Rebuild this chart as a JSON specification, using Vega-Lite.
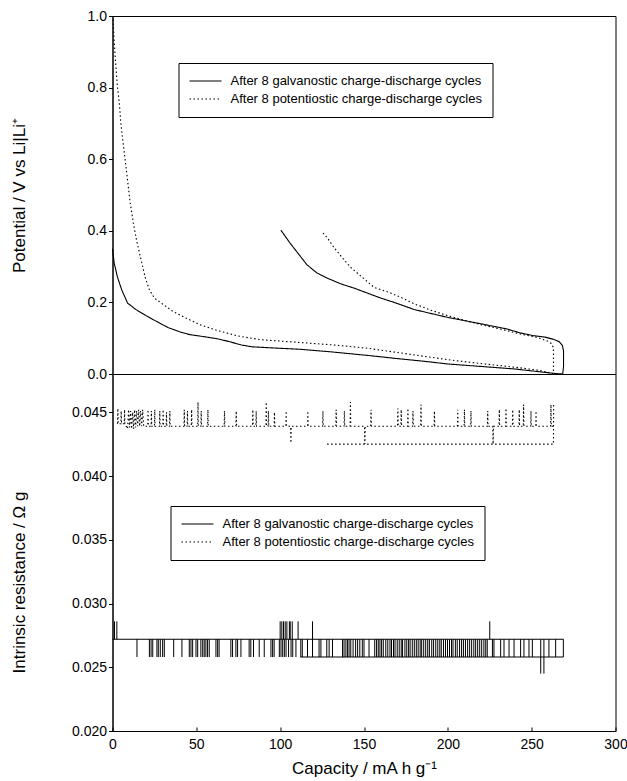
{
  "$schema": "https://vega.github.io/schema/vega-lite/v6.json",
  "background": "white",
  "padding": {"left": 9.5, "top": 8, "right": 0, "bottom": 3},
  "bounds": "flush",
  "config": {
    "font": "Liberation Sans",
    "view": {"stroke": "black", "strokeWidth": 1},
    "axis": {"grid": false, "domainColor": "black", "tickColor": "black", "labelColor": "black", "titleColor": "black", "labelFont": "Liberation Sans", "titleFont": "Liberation Sans", "labelFontSize": 14, "titleFontSize": 17, "titleFontWeight": "normal", "labelFlush": false},
    "legend": {"title": null, "orient": "none", "strokeColor": "black", "fillColor": "white", "padding": 10, "symbolType": "stroke", "symbolSize": 1024, "symbolStrokeWidth": 1.1, "symbolStrokeColor": "black", "labelFontSize": 13, "labelFont": "Liberation Sans", "labelColor": "black", "labelOffset": 8, "labelLimit": 0, "rowPadding": 2, "clipHeight": 16}
  },
  "datasets": {
    "potential": [
      {"s":"G","i":0,"cap":0,"pot":0.35},{"s":"G","i":1,"cap":1,"pot":0.31},{"s":"G","i":2,"cap":3,"pot":0.27},{"s":"G","i":3,"cap":5.5,"pot":0.235},{"s":"G","i":4,"cap":9,"pot":0.198},{"s":"G","i":5,"cap":14,"pot":0.18},{"s":"G","i":6,"cap":20,"pot":0.163},{"s":"G","i":7,"cap":27,"pot":0.145},{"s":"G","i":8,"cap":33,"pot":0.13},{"s":"G","i":9,"cap":40,"pot":0.118},{"s":"G","i":10,"cap":46,"pot":0.11},{"s":"G","i":11,"cap":55,"pot":0.104},{"s":"G","i":12,"cap":63,"pot":0.098},{"s":"G","i":13,"cap":70,"pot":0.09},{"s":"G","i":14,"cap":77,"pot":0.081},{"s":"G","i":15,"cap":83,"pot":0.076},{"s":"G","i":16,"cap":95,"pot":0.073},{"s":"G","i":17,"cap":112,"pot":0.069},{"s":"G","i":18,"cap":130,"pot":0.062},{"s":"G","i":19,"cap":152,"pot":0.052},{"s":"G","i":20,"cap":170,"pot":0.043},{"s":"G","i":21,"cap":185,"pot":0.036},{"s":"G","i":22,"cap":200,"pot":0.028},{"s":"G","i":23,"cap":220,"pot":0.021},{"s":"G","i":24,"cap":240,"pot":0.014},{"s":"G","i":25,"cap":257,"pot":0.005},{"s":"G","i":26,"cap":265,"pot":0.001},{"s":"G","i":27,"cap":268.5,"pot":0},
      {"s":"G","i":28,"cap":269,"pot":0.02},{"s":"G","i":29,"cap":269,"pot":0.065},{"s":"G","i":30,"cap":268.3,"pot":0.08},{"s":"G","i":31,"cap":266.5,"pot":0.09},{"s":"G","i":32,"cap":263,"pot":0.097},{"s":"G","i":33,"cap":258,"pot":0.103},{"s":"G","i":34,"cap":251,"pot":0.107},{"s":"G","i":35,"cap":243,"pot":0.115},{"s":"G","i":36,"cap":235,"pot":0.126},{"s":"G","i":37,"cap":220,"pot":0.14},{"s":"G","i":38,"cap":200,"pot":0.158},{"s":"G","i":39,"cap":180,"pot":0.18},{"s":"G","i":40,"cap":168,"pot":0.2},{"s":"G","i":41,"cap":160,"pot":0.212},{"s":"G","i":42,"cap":152,"pot":0.226},{"s":"G","i":43,"cap":144,"pot":0.24},{"s":"G","i":44,"cap":136,"pot":0.252},{"s":"G","i":45,"cap":128,"pot":0.268},{"s":"G","i":46,"cap":122,"pot":0.282},{"s":"G","i":47,"cap":116,"pot":0.305},{"s":"G","i":48,"cap":111,"pot":0.335},{"s":"G","i":49,"cap":106,"pot":0.365},{"s":"G","i":50,"cap":100.4,"pot":0.402},
      {"s":"P","i":0,"cap":0.3,"pot":0.99},{"s":"P","i":1,"cap":1,"pot":0.93},{"s":"P","i":2,"cap":2,"pot":0.86},{"s":"P","i":3,"cap":3,"pot":0.8},{"s":"P","i":4,"cap":4,"pot":0.76},{"s":"P","i":5,"cap":5,"pot":0.7},{"s":"P","i":6,"cap":6.2,"pot":0.65},{"s":"P","i":7,"cap":7.5,"pot":0.6},{"s":"P","i":8,"cap":9,"pot":0.54},{"s":"P","i":9,"cap":10.5,"pot":0.48},{"s":"P","i":10,"cap":12.5,"pot":0.42},{"s":"P","i":11,"cap":14.5,"pot":0.37},{"s":"P","i":12,"cap":17,"pot":0.32},{"s":"P","i":13,"cap":19.5,"pot":0.27},{"s":"P","i":14,"cap":22,"pot":0.235},{"s":"P","i":15,"cap":25,"pot":0.212},{"s":"P","i":16,"cap":30,"pot":0.195},{"s":"P","i":17,"cap":36,"pot":0.175},{"s":"P","i":18,"cap":43,"pot":0.158},{"s":"P","i":19,"cap":52,"pot":0.138},{"s":"P","i":20,"cap":63,"pot":0.121},{"s":"P","i":21,"cap":75,"pot":0.106},{"s":"P","i":22,"cap":88,"pot":0.096},{"s":"P","i":23,"cap":112,"pot":0.088},{"s":"P","i":24,"cap":132,"pot":0.081},{"s":"P","i":25,"cap":152,"pot":0.072},{"s":"P","i":26,"cap":170,"pot":0.06},{"s":"P","i":27,"cap":185,"pot":0.05},{"s":"P","i":28,"cap":200,"pot":0.04},{"s":"P","i":29,"cap":220,"pot":0.029},{"s":"P","i":30,"cap":240,"pot":0.019},{"s":"P","i":31,"cap":255,"pot":0.01},{"s":"P","i":32,"cap":260,"pot":0.004},{"s":"P","i":33,"cap":262.5,"pot":0},
      {"s":"P","i":34,"cap":263,"pot":0.005},{"s":"P","i":35,"cap":263,"pot":0.074},{"s":"P","i":36,"cap":261.5,"pot":0.086},{"s":"P","i":37,"cap":259.4,"pot":0.092},{"s":"P","i":38,"cap":253.4,"pot":0.102},{"s":"P","i":39,"cap":245,"pot":0.11},{"s":"P","i":40,"cap":239.5,"pot":0.116},{"s":"P","i":41,"cap":230,"pot":0.127},{"s":"P","i":42,"cap":219.6,"pot":0.138},{"s":"P","i":43,"cap":210,"pot":0.15},{"s":"P","i":44,"cap":199.8,"pot":0.163},{"s":"P","i":45,"cap":190,"pot":0.178},{"s":"P","i":46,"cap":180,"pot":0.196},{"s":"P","i":47,"cap":172,"pot":0.214},{"s":"P","i":48,"cap":165,"pot":0.228},{"s":"P","i":49,"cap":156,"pot":0.242},{"s":"P","i":50,"cap":149,"pot":0.27},{"s":"P","i":51,"cap":142,"pot":0.298},{"s":"P","i":52,"cap":137,"pot":0.325},{"s":"P","i":53,"cap":132,"pot":0.354},{"s":"P","i":54,"cap":128.5,"pot":0.378},{"s":"P","i":55,"cap":125.3,"pot":0.395}
    ],
    "resistance": [
      {"s":"G","seg":"g1","cap":0,"res":0.0272},{"s":"G","seg":"g1","cap":269,"res":0.0272},
      {"s":"G","seg":"g2","cap":112,"res":0.0258},{"s":"G","seg":"g2","cap":268.9,"res":0.0258},
      {"s":"P","seg":"l","cap":128,"res":0.0425},{"s":"P","seg":"l","cap":263,"res":0.0425},{"s":"P","seg":"l","cap":263.1,"res":0.0456},
      {"s":"P","seg":"m","cap":3,"res":0.0441},{"s":"P","seg":"m","cap":3.2,"res":0.0453},{"s":"P","seg":"m","cap":3.4,"res":0.0441},{"s":"P","seg":"m","cap":5,"res":0.0441},{"s":"P","seg":"m","cap":5.2,"res":0.0451},{"s":"P","seg":"m","cap":5.4,"res":0.0441},{"s":"P","seg":"m","cap":7,"res":0.0441},{"s":"P","seg":"m","cap":7.2,"res":0.0452},{"s":"P","seg":"m","cap":7.4,"res":0.0441},
      {"s":"P","seg":"m","cap":9,"res":0.0437},{"s":"P","seg":"m","cap":9.6,"res":0.0452},{"s":"P","seg":"m","cap":10.2,"res":0.0438},{"s":"P","seg":"m","cap":10.8,"res":0.0451},{"s":"P","seg":"m","cap":11.4,"res":0.0437},{"s":"P","seg":"m","cap":12,"res":0.045},{"s":"P","seg":"m","cap":12.6,"res":0.0437},{"s":"P","seg":"m","cap":13.2,"res":0.0452},{"s":"P","seg":"m","cap":13.8,"res":0.0438},{"s":"P","seg":"m","cap":14.4,"res":0.0451},{"s":"P","seg":"m","cap":15,"res":0.0439},{"s":"P","seg":"m","cap":15.6,"res":0.0452},{"s":"P","seg":"m","cap":16.2,"res":0.0439},{"s":"P","seg":"m","cap":16.8,"res":0.0451},{"s":"P","seg":"m","cap":17.4,"res":0.0439},{"s":"P","seg":"m","cap":18,"res":0.0452},{"s":"P","seg":"m","cap":18.6,"res":0.0439},
      {"s":"P","seg":"m","cap":21,"res":0.0439},{"s":"P","seg":"m","cap":21.2,"res":0.0452},{"s":"P","seg":"m","cap":21.4,"res":0.0439},{"s":"P","seg":"m","cap":23,"res":0.0439},{"s":"P","seg":"m","cap":23.2,"res":0.0451},{"s":"P","seg":"m","cap":23.4,"res":0.0439},{"s":"P","seg":"m","cap":25,"res":0.0439},{"s":"P","seg":"m","cap":25.2,"res":0.0452},{"s":"P","seg":"m","cap":25.4,"res":0.0439},
      {"s":"P","seg":"m","cap":28,"res":0.0439},{"s":"P","seg":"m","cap":28.2,"res":0.0451},{"s":"P","seg":"m","cap":28.4,"res":0.0439},{"s":"P","seg":"m","cap":30,"res":0.0439},{"s":"P","seg":"m","cap":30.2,"res":0.0452},{"s":"P","seg":"m","cap":30.4,"res":0.0439},{"s":"P","seg":"m","cap":32,"res":0.0439},{"s":"P","seg":"m","cap":32.2,"res":0.045},{"s":"P","seg":"m","cap":32.4,"res":0.0439},{"s":"P","seg":"m","cap":34,"res":0.0439},{"s":"P","seg":"m","cap":34.2,"res":0.0451},{"s":"P","seg":"m","cap":34.4,"res":0.0439},
      {"s":"P","seg":"m","cap":42.6,"res":0.0439},{"s":"P","seg":"m","cap":42.8,"res":0.0452},{"s":"P","seg":"m","cap":43,"res":0.0439},{"s":"P","seg":"m","cap":44.5,"res":0.0439},{"s":"P","seg":"m","cap":44.7,"res":0.0451},{"s":"P","seg":"m","cap":44.9,"res":0.0439},{"s":"P","seg":"m","cap":47,"res":0.0439},{"s":"P","seg":"m","cap":47.2,"res":0.0452},{"s":"P","seg":"m","cap":47.4,"res":0.0439},
      {"s":"P","seg":"m","cap":50.8,"res":0.0439},{"s":"P","seg":"m","cap":51,"res":0.0458},{"s":"P","seg":"m","cap":51.2,"res":0.0439},{"s":"P","seg":"m","cap":52.7,"res":0.0439},{"s":"P","seg":"m","cap":52.9,"res":0.0451},{"s":"P","seg":"m","cap":53.1,"res":0.0439},
      {"s":"P","seg":"m","cap":56.7,"res":0.0439},{"s":"P","seg":"m","cap":56.9,"res":0.0452},{"s":"P","seg":"m","cap":57.1,"res":0.0439},
      {"s":"P","seg":"m","cap":66.6,"res":0.0439},{"s":"P","seg":"m","cap":66.8,"res":0.0451},{"s":"P","seg":"m","cap":67,"res":0.0439},
      {"s":"P","seg":"m","cap":73.6,"res":0.0439},{"s":"P","seg":"m","cap":73.8,"res":0.0451},{"s":"P","seg":"m","cap":74,"res":0.0439},
      {"s":"P","seg":"m","cap":83.5,"res":0.0439},{"s":"P","seg":"m","cap":83.7,"res":0.0452},{"s":"P","seg":"m","cap":83.9,"res":0.0439},{"s":"P","seg":"m","cap":85.5,"res":0.0439},{"s":"P","seg":"m","cap":85.7,"res":0.0451},{"s":"P","seg":"m","cap":85.9,"res":0.0439},
      {"s":"P","seg":"m","cap":91.5,"res":0.0439},{"s":"P","seg":"m","cap":91.7,"res":0.0458},{"s":"P","seg":"m","cap":91.9,"res":0.0439},{"s":"P","seg":"m","cap":92.8,"res":0.0439},{"s":"P","seg":"m","cap":93,"res":0.0451},{"s":"P","seg":"m","cap":93.2,"res":0.0439},
      {"s":"P","seg":"m","cap":96.4,"res":0.0439},{"s":"P","seg":"m","cap":96.6,"res":0.045},{"s":"P","seg":"m","cap":96.8,"res":0.0439},
      {"s":"P","seg":"m","cap":103.4,"res":0.0439},{"s":"P","seg":"m","cap":103.6,"res":0.0451},{"s":"P","seg":"m","cap":103.8,"res":0.0439},
      {"s":"P","seg":"m","cap":106.2,"res":0.0439},{"s":"P","seg":"m","cap":106.4,"res":0.0426},{"s":"P","seg":"m","cap":106.6,"res":0.0439},
      {"s":"P","seg":"m","cap":116.3,"res":0.0439},{"s":"P","seg":"m","cap":116.5,"res":0.0451},{"s":"P","seg":"m","cap":116.7,"res":0.0439},
      {"s":"P","seg":"m","cap":125.3,"res":0.0439},{"s":"P","seg":"m","cap":125.5,"res":0.0451},{"s":"P","seg":"m","cap":125.7,"res":0.0439},
      {"s":"P","seg":"m","cap":133.2,"res":0.0439},{"s":"P","seg":"m","cap":133.4,"res":0.0452},{"s":"P","seg":"m","cap":133.6,"res":0.0439},
      {"s":"P","seg":"m","cap":138.1,"res":0.0439},{"s":"P","seg":"m","cap":138.3,"res":0.0451},{"s":"P","seg":"m","cap":138.5,"res":0.0439},
      {"s":"P","seg":"m","cap":141.7,"res":0.0439},{"s":"P","seg":"m","cap":141.9,"res":0.0458},{"s":"P","seg":"m","cap":142.1,"res":0.0439},
      {"s":"P","seg":"m","cap":150.3,"res":0.0439},{"s":"P","seg":"m","cap":150.5,"res":0.0425},{"s":"P","seg":"m","cap":150.7,"res":0.0439},
      {"s":"P","seg":"m","cap":154,"res":0.0439},{"s":"P","seg":"m","cap":154.2,"res":0.0452},{"s":"P","seg":"m","cap":154.4,"res":0.0439},
      {"s":"P","seg":"m","cap":170,"res":0.0439},{"s":"P","seg":"m","cap":170.2,"res":0.0453},{"s":"P","seg":"m","cap":170.4,"res":0.0439},{"s":"P","seg":"m","cap":172,"res":0.0439},{"s":"P","seg":"m","cap":172.2,"res":0.0452},{"s":"P","seg":"m","cap":172.4,"res":0.0439},
      {"s":"P","seg":"m","cap":176,"res":0.0439},{"s":"P","seg":"m","cap":176.2,"res":0.0453},{"s":"P","seg":"m","cap":176.4,"res":0.0439},{"s":"P","seg":"m","cap":179,"res":0.0439},{"s":"P","seg":"m","cap":179.2,"res":0.0451},{"s":"P","seg":"m","cap":179.4,"res":0.0439},
      {"s":"P","seg":"m","cap":183.8,"res":0.0439},{"s":"P","seg":"m","cap":184,"res":0.0456},{"s":"P","seg":"m","cap":184.2,"res":0.0439},
      {"s":"P","seg":"m","cap":191.8,"res":0.0439},{"s":"P","seg":"m","cap":192,"res":0.0451},{"s":"P","seg":"m","cap":192.2,"res":0.0439},
      {"s":"P","seg":"m","cap":205.7,"res":0.0439},{"s":"P","seg":"m","cap":205.9,"res":0.0452},{"s":"P","seg":"m","cap":206.1,"res":0.0439},{"s":"P","seg":"m","cap":209.7,"res":0.0439},{"s":"P","seg":"m","cap":209.9,"res":0.0452},{"s":"P","seg":"m","cap":210.1,"res":0.0439},{"s":"P","seg":"m","cap":213.6,"res":0.0439},{"s":"P","seg":"m","cap":213.8,"res":0.0451},{"s":"P","seg":"m","cap":214,"res":0.0439},
      {"s":"P","seg":"m","cap":223.6,"res":0.0439},{"s":"P","seg":"m","cap":223.8,"res":0.0451},{"s":"P","seg":"m","cap":224,"res":0.0439},
      {"s":"P","seg":"m","cap":226.8,"res":0.0439},{"s":"P","seg":"m","cap":227,"res":0.0425},{"s":"P","seg":"m","cap":227.2,"res":0.0439},
      {"s":"P","seg":"m","cap":230.5,"res":0.0439},{"s":"P","seg":"m","cap":230.7,"res":0.0452},{"s":"P","seg":"m","cap":230.9,"res":0.0439},{"s":"P","seg":"m","cap":234.5,"res":0.0439},{"s":"P","seg":"m","cap":234.7,"res":0.0453},{"s":"P","seg":"m","cap":234.9,"res":0.0439},{"s":"P","seg":"m","cap":238.5,"res":0.0439},{"s":"P","seg":"m","cap":238.7,"res":0.0452},{"s":"P","seg":"m","cap":238.9,"res":0.0439},{"s":"P","seg":"m","cap":242.4,"res":0.0439},{"s":"P","seg":"m","cap":242.6,"res":0.0452},{"s":"P","seg":"m","cap":242.8,"res":0.0439},{"s":"P","seg":"m","cap":245,"res":0.0439},{"s":"P","seg":"m","cap":245.2,"res":0.0456},{"s":"P","seg":"m","cap":245.4,"res":0.0439},
      {"s":"P","seg":"m","cap":249.4,"res":0.0439},{"s":"P","seg":"m","cap":249.6,"res":0.0451},{"s":"P","seg":"m","cap":249.8,"res":0.0439},{"s":"P","seg":"m","cap":252.4,"res":0.0439},{"s":"P","seg":"m","cap":252.6,"res":0.0451},{"s":"P","seg":"m","cap":252.8,"res":0.0439},
      {"s":"P","seg":"m","cap":261.3,"res":0.0439},{"s":"P","seg":"m","cap":261.5,"res":0.0456},{"s":"P","seg":"m","cap":261.7,"res":0.0439},{"s":"P","seg":"m","cap":263,"res":0.0439}
    ],
    "spikes": [
      {"cap":1.2,"res":0.0286},{"cap":2.6,"res":0.0286},{"cap":100,"res":0.0286},{"cap":101,"res":0.0286},{"cap":102,"res":0.0286},{"cap":103,"res":0.0286},{"cap":104,"res":0.0286},{"cap":105.5,"res":0.0286},{"cap":106,"res":0.0286},{"cap":107.2,"res":0.0286},{"cap":110.7,"res":0.0286},{"cap":119.3,"res":0.0286},{"cap":225,"res":0.0286},
      {"cap":14.6,"res":0.0258},{"cap":22,"res":0.0258},{"cap":23,"res":0.0258},{"cap":24,"res":0.0258},{"cap":26.5,"res":0.0258},{"cap":27.3,"res":0.0258},{"cap":28.5,"res":0.0258},{"cap":29.9,"res":0.0258},{"cap":30.9,"res":0.0258},{"cap":36.5,"res":0.0258},{"cap":41.4,"res":0.0258},{"cap":45.8,"res":0.0258},{"cap":46.8,"res":0.0258},{"cap":47.8,"res":0.0258},{"cap":49.8,"res":0.0258},{"cap":50.8,"res":0.0258},{"cap":52.7,"res":0.0258},{"cap":53.8,"res":0.0258},{"cap":54.7,"res":0.0258},{"cap":55.7,"res":0.0258},{"cap":56.7,"res":0.0258},{"cap":57.7,"res":0.0258},{"cap":61.7,"res":0.0258},{"cap":62.7,"res":0.0258},{"cap":63.6,"res":0.0258},{"cap":70.6,"res":0.0258},{"cap":71.6,"res":0.0258},{"cap":73.6,"res":0.0258},{"cap":74.6,"res":0.0258},{"cap":76.6,"res":0.0258},{"cap":81.5,"res":0.0258},{"cap":82.5,"res":0.0258},{"cap":84.1,"res":0.0258},{"cap":87.5,"res":0.0258},{"cap":90.5,"res":0.0258},{"cap":94.5,"res":0.0258},{"cap":95.5,"res":0.0258},{"cap":96.4,"res":0.0258},{"cap":99.5,"res":0.0258},{"cap":100.5,"res":0.0258},{"cap":101.5,"res":0.0258},{"cap":102.5,"res":0.0258},{"cap":103.5,"res":0.0258},{"cap":105,"res":0.0258},{"cap":106.5,"res":0.0258},{"cap":107.5,"res":0.0258},{"cap":109.4,"res":0.0258},{"cap":112.3,"res":0.0258},{"cap":113.2,"res":0.0258},{"cap":116.3,"res":0.0258},{"cap":119.3,"res":0.0258},{"cap":123.2,"res":0.0258},{"cap":124.3,"res":0.0258},{"cap":127.8,"res":0.0258},{"cap":129.2,"res":0.0258},{"cap":131.2,"res":0.0258},{"cap":137.2,"res":0.0258},{"cap":138.1,"res":0.0258},{"cap":139.2,"res":0.0258},{"cap":140.2,"res":0.0258},{"cap":141.1,"res":0.0258},{"cap":142.1,"res":0.0258},{"cap":143.5,"res":0.0258},{"cap":145,"res":0.0258},{"cap":146.2,"res":0.0258},{"cap":147.5,"res":0.0258},{"cap":149,"res":0.0258},{"cap":150,"res":0.0258},{"cap":153,"res":0.0258},{"cap":156.4,"res":0.0258},{"cap":157.5,"res":0.0258},{"cap":158.5,"res":0.0258},{"cap":159.5,"res":0.0258},{"cap":160.5,"res":0.0258},{"cap":161.5,"res":0.0258},{"cap":163,"res":0.0258},{"cap":164.2,"res":0.0258},{"cap":165.5,"res":0.0258},{"cap":166.4,"res":0.0258},{"cap":167.6,"res":0.0258},{"cap":168.5,"res":0.0258},{"cap":169.8,"res":0.0258},{"cap":171,"res":0.0258},{"cap":172.2,"res":0.0258},{"cap":173,"res":0.0258},{"cap":174.4,"res":0.0258},{"cap":175.5,"res":0.0258},{"cap":176.6,"res":0.0258},{"cap":177.5,"res":0.0258},{"cap":178.8,"res":0.0258},{"cap":180,"res":0.0258},{"cap":181.2,"res":0.0258},{"cap":182.3,"res":0.0258},{"cap":183.5,"res":0.0258},{"cap":184.4,"res":0.0258},{"cap":185.6,"res":0.0258},{"cap":186.8,"res":0.0258},{"cap":188,"res":0.0258},{"cap":189,"res":0.0258},{"cap":190.4,"res":0.0258},{"cap":191.5,"res":0.0258},{"cap":192.8,"res":0.0258},{"cap":194,"res":0.0258},{"cap":195.2,"res":0.0258},{"cap":196.1,"res":0.0258},{"cap":197.4,"res":0.0258},{"cap":198.6,"res":0.0258},{"cap":199.8,"res":0.0258},{"cap":201,"res":0.0258},{"cap":202.2,"res":0.0258},{"cap":203.1,"res":0.0258},{"cap":204.5,"res":0.0258},{"cap":205.6,"res":0.0258},{"cap":207,"res":0.0258},{"cap":208.2,"res":0.0258},{"cap":209.3,"res":0.0258},{"cap":210.5,"res":0.0258},{"cap":211.8,"res":0.0258},{"cap":213,"res":0.0258},{"cap":214.2,"res":0.0258},{"cap":215.5,"res":0.0258},{"cap":216.6,"res":0.0258},{"cap":217.8,"res":0.0258},{"cap":219,"res":0.0258},{"cap":220.2,"res":0.0258},{"cap":221.5,"res":0.0258},{"cap":222.6,"res":0.0258},{"cap":223.5,"res":0.0258},{"cap":226.6,"res":0.0258},{"cap":227.5,"res":0.0258},{"cap":231.5,"res":0.0258},{"cap":233.5,"res":0.0258},{"cap":236.5,"res":0.0258},{"cap":239.5,"res":0.0258},{"cap":243.4,"res":0.0258},{"cap":245.4,"res":0.0258},{"cap":248.4,"res":0.0258},{"cap":250.4,"res":0.0258},{"cap":255.4,"res":0.0245},{"cap":257.3,"res":0.0245},{"cap":260.3,"res":0.0258},{"cap":264.3,"res":0.0258},{"cap":268.9,"res":0.0258}
    ]
  },
  "vconcat": [
    {
      "width": 503,
      "height": 358,
      "data": {"name": "potential"},
      "mark": {"type": "line", "color": "black", "strokeWidth": 1.1},
      "encoding": {
        "x": {"field": "cap", "type": "quantitative", "scale": {"domain": [0, 300]}, "axis": null},
        "y": {"field": "pot", "type": "quantitative", "scale": {"domain": [0, 1]}, "axis": {"values": [0, 0.2, 0.4, 0.6, 0.8, 1.0], "format": ".1f", "title": "Potential / V vs Li|Li⁺", "titleX": -84, "titleY": 179, "tickSize": 4, "labelPadding": 2}},
        "strokeDash": {"field": "s", "type": "nominal", "scale": {"domain": ["G", "P"], "range": [[1, 0], [1.5, 2.5]]}, "legend": {"legendX": 66, "legendY": 47, "labelExpr": "datum.label == 'G' ? 'After 8 galvanostic charge-discharge cycles' : 'After 8 potentiostic charge-discharge cycles'"}},
        "order": {"field": "i", "type": "quantitative"}
      }
    },
    {
      "width": 503,
      "height": 357,
      "layer": [
        {
          "data": {"name": "spikes"},
          "mark": {"type": "rule", "color": "black", "strokeWidth": 1},
          "encoding": {
            "x": {"field": "cap", "type": "quantitative", "scale": {"domain": [0, 300]}},
            "y": {"field": "res", "type": "quantitative", "scale": {"domain": [0.02, 0.048]}},
            "y2": {"datum": 0.0272}
          }
        },
        {
          "data": {"name": "resistance"},
          "mark": {"type": "line", "color": "black", "strokeWidth": 1.1},
          "encoding": {
            "x": {"field": "cap", "type": "quantitative", "scale": {"domain": [0, 300]}, "axis": {"values": [0, 50, 100, 150, 200, 250, 300], "title": "Capacity / mA h g⁻¹", "tickSize": -4, "labelPadding": 10, "titlePadding": 9}},
            "y": {"field": "res", "type": "quantitative", "scale": {"domain": [0.02, 0.048]}, "axis": {"values": [0.02, 0.025, 0.03, 0.035, 0.04, 0.045], "format": ".3f", "title": "Intrinsic resistance / Ω g", "titleX": -84, "titleY": 208, "tickSize": 4, "labelPadding": 2}},
            "strokeDash": {"field": "s", "type": "nominal", "scale": {"domain": ["G", "P"], "range": [[1, 0], [1.5, 2.5]]}, "legend": {"legendX": 58, "legendY": 132, "labelExpr": "datum.label == 'G' ? 'After 8 galvanostic charge-discharge cycles' : 'After 8 potentiostic charge-discharge cycles'"}},
            "detail": {"field": "seg"}
          }
        }
      ]
    }
  ],
  "spacing": 0,
  "resolve": {"scale": {"strokeDash": "independent"}}
}
